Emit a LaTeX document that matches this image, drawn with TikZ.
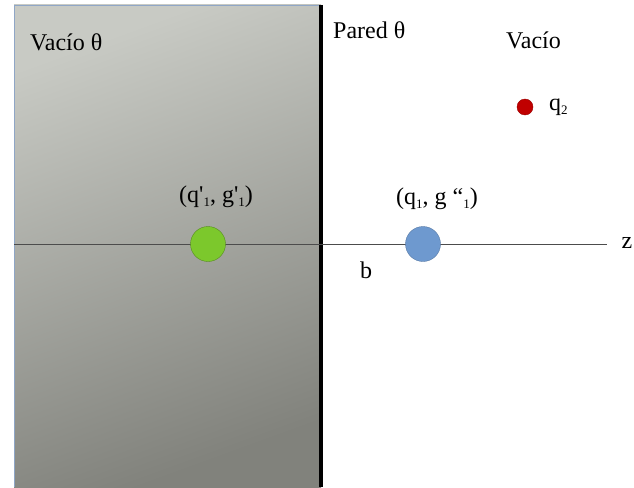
\documentclass[tikz,border=0pt]{standalone}
\usepackage{fontspec}
\setmainfont{Liberation Serif}
\definecolor{gtop}{HTML}{C8CAC4}
\definecolor{gbot}{HTML}{81827C}
\definecolor{frame}{HTML}{8FA6C6}
\definecolor{greenb}{HTML}{7CC82C}
\definecolor{blueb}{HTML}{6E99CF}
\definecolor{redb}{HTML}{C00000}
\newcommand{\sbs}[1]{\raisebox{-0.35ex}{\fontsize{13}{14}\selectfont #1}}
\tikzset{
  lbl/.style={inner sep=0pt, font=\fontsize{24}{26}\selectfont},
  ball/.style={circle, inner sep=0pt, minimum size=#1},
}
\begin{document}
\begin{tikzpicture}[x=1pt,y=-1pt]
\useasboundingbox (0,0) rectangle (634,487);
\fill[white] (0,0) rectangle (634,487);
% gray slab
\shade[shading=axis, top color=gtop, bottom color=gbot, shading angle=20] (14,5) rectangle (321,487);
\draw[frame, line width=0.8pt] (321,5) -- (14,5) -- (14,487);
% wall
\draw[black, line width=4pt] (321,5) -- (321,487);
% axis
\coordinate (zl) at (14,244);
\coordinate (zr) at (607,244);
\draw[black!70, line width=0.8pt] (zl) -- (zr);
\node[lbl] (z) at (627,243) {z};
% balls
\node[ball=35pt, fill=greenb, draw=greenb!70!black, line width=0.4pt] (g) at (208,244) {};
\node[ball=35pt, fill=blueb, draw=blueb!80!black, line width=0.4pt] (bl) at (423,244) {};
\node[ball=16pt, fill=redb, draw=redb!80!black, line width=0.4pt] (r) at (525,107) {};
% labels
\node[lbl, anchor=west] (t1) at (30,42) {Vacío θ};
\node[lbl, anchor=west] (t2) at (333,30) {Pared θ};
\node[lbl, anchor=west] (t3) at (506,40) {Vacío};
\node[lbl, anchor=west] (q2) at (549,107) {q\sbs{2}};
\node[lbl] (l1) at (216,197) {(q\textquotesingle\sbs{1}, g\textquotesingle\sbs{1})};
\node[lbl] (l2) at (437,199) {(q\sbs{1}, g “\sbs{1})};
\node[lbl] (b) at (366,270) {b};
\end{tikzpicture}
\end{document}
